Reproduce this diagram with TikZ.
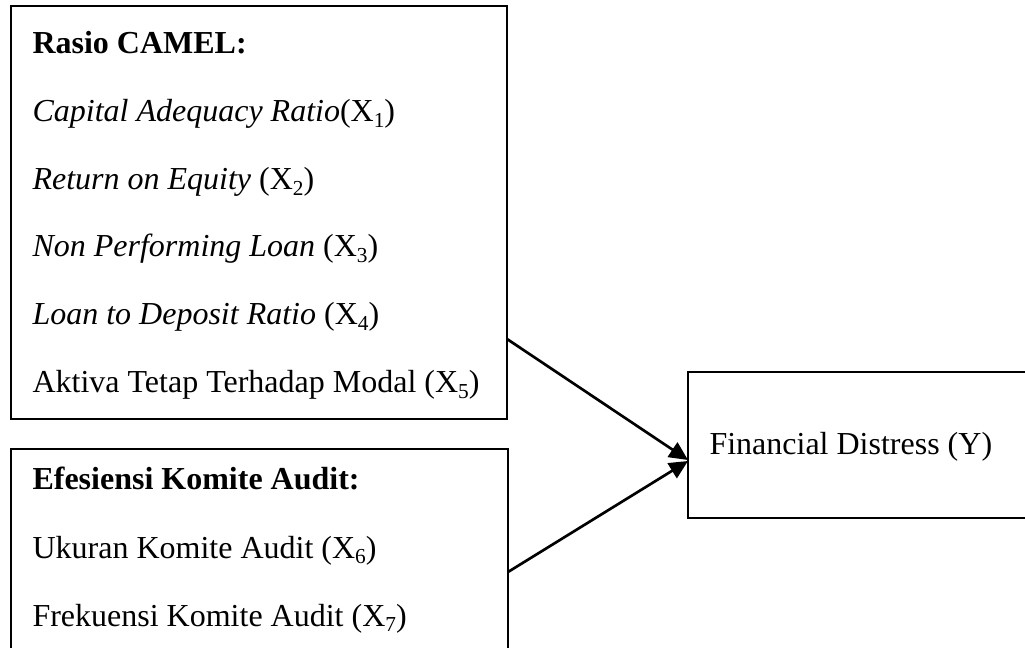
\documentclass[tikz,border=0pt]{standalone}
\usepackage{fontspec}
\setmainfont{Liberation Serif}
\usetikzlibrary{fit,arrows.meta}
\newcommand\subsc[1]{\raisebox{-0.35ex}{\fontsize{8pt}{8pt}\selectfont #1}}
\begin{document}
\begin{tikzpicture}[x=0.375pt,y=-0.375pt,
  boxst/.style={draw=black,line width=0.75pt,inner sep=0pt},
  txt/.style={anchor=base west,inner sep=0pt,font=\fontsize{12pt}{14pt}\selectfont},
  conn/.style={line width=1pt,-{Triangle[length=7pt,width=6.5pt]}}]
\useasboundingbox (0,0) rectangle (1025,648);
\clip (0,0) rectangle (1025,648);
\fill[white] (0,0) rectangle (1025,648);
% boxes
\node[boxst,fit={(11,6) (507,419)}] (camel) {};
\node[boxst,fit={(11,449) (508,660)}] (komite) {};
\node[boxst,fit={(688,372) (1040,518)}] (fd) {};
% texts box 1
\node[txt] (t0) at (32,54) {\textbf{Rasio CAMEL:}};
\node[txt] (t1) at (32,122) {\textit{Capital Adequacy Ratio}(X\subsc{1})};
\node[txt] (t2) at (32,190) {\textit{Return on Equity} (X\subsc{2})};
\node[txt] (t3) at (32,257) {\textit{Non Performing Loan} (X\subsc{3})};
\node[txt] (t4) at (32,325) {\textit{Loan to Deposit Ratio} (X\subsc{4})};
\node[txt] (t5) at (32,393) {Aktiva Tetap Terhadap Modal (X\subsc{5})};
% texts box 2
\node[txt] (u0) at (32,490) {\textbf{Efesiensi Komite Audit:}};
\node[txt] (u1) at (32,558) {Ukuran Komite Audit (X\subsc{6})};
\node[txt] (u2) at (32,626) {Frekuensi Komite Audit (X\subsc{7})};
% text box 3
\node[txt] (y0) at (709,455) {Financial Distress (Y)};
% connectors
\coordinate (s1) at (507,339);
\coordinate (s2) at (508,572);
\coordinate (e1) at (688,460);
\coordinate (e2) at (688,461);
\draw[conn] (s1) -- (e1);
\draw[conn] (s2) -- (e2);
\end{tikzpicture}
\end{document}
